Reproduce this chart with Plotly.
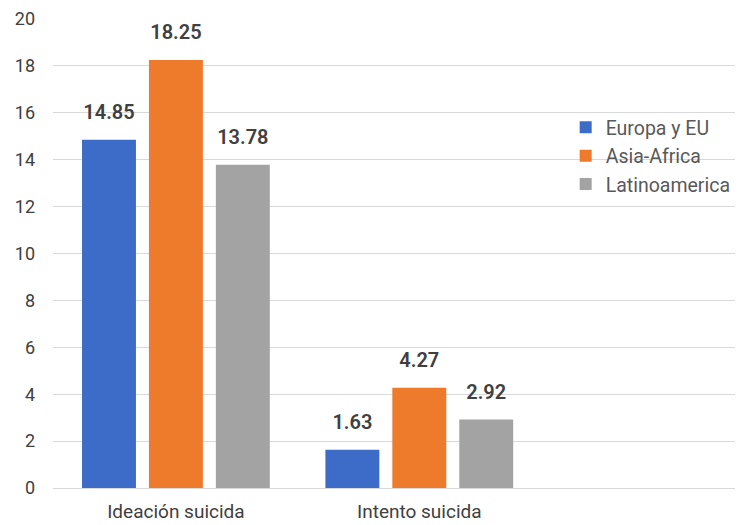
import plotly.graph_objects as go

categories = ["Ideación suicida", "Intento suicida", " "]
series_names = ["Europa y EU", "Asia-Africa", "Latinoamerica"]
europa = [14.85, 1.63, None]
asia = [18.25, 4.27, None]
latam = [13.78, 2.92, None]
y_ticks = [0, 2, 4, 6, 8, 10, 12, 14, 16, 18, 20]

colors = ["#3d6cc8", "#ee7a2c", "#a3a3a3"]
font_family = "Roboto, Arial"
label_gap = 0.55  # visual spacing between bar top and its value label (axis units)

fig = go.Figure()
for i, (name, vals, col) in enumerate(zip(series_names, [europa, asia, latam], colors)):
    fig.add_trace(go.Bar(
        name=name, x=categories, y=vals, offsetgroup=str(i),
        marker=dict(color=col, line=dict(width=0)),
        hoverinfo="x+y+name",
    ))
    # transparent spacer bar sitting on top of each bar, carrying the value label
    fig.add_trace(go.Bar(
        name=name, x=categories,
        y=[label_gap if v is not None else None for v in vals],
        base=vals, offsetgroup=str(i), showlegend=False, hoverinfo="skip",
        marker=dict(color="rgba(0,0,0,0)", line=dict(width=0)),
        text=[f"{v:.2f}" if v is not None else "" for v in vals],
        textposition="outside",
        textfont=dict(size=20, color="#404040", family=font_family, weight=600),
        cliponaxis=False,
    ))

fig.update_layout(
    width=735, height=517,
    margin=dict(l=45, r=0, t=11, b=37),
    plot_bgcolor="white", paper_bgcolor="white",
    barmode="group", bargap=0.175, bargroupgap=0.194,
    font=dict(family=font_family, color="#595959"),
    legend=dict(x=0.743, y=0.81, xanchor="left", yanchor="top",
                font=dict(size=19.5, color="#595959", family=font_family),
                itemwidth=30, tracegroupgap=0, bgcolor="rgba(0,0,0,0)"),
    xaxis=dict(type="category", range=[-0.505, 2.33], showgrid=False, automargin=False,
               showline=False, ticks="", ticklabelstandoff=10,
               tickfont=dict(size=19, color="#404040")),
    yaxis=dict(range=[0, 20], tickvals=y_ticks, showgrid=True, gridcolor="#d9d9d9",
               gridwidth=1, zeroline=True, zerolinecolor="#d9d9d9", zerolinewidth=1,
               showline=False, ticks="", automargin=False, ticklabelstandoff=17,
               tickfont=dict(size=18, color="#404040")),
)

fig.write_html("out.html")
